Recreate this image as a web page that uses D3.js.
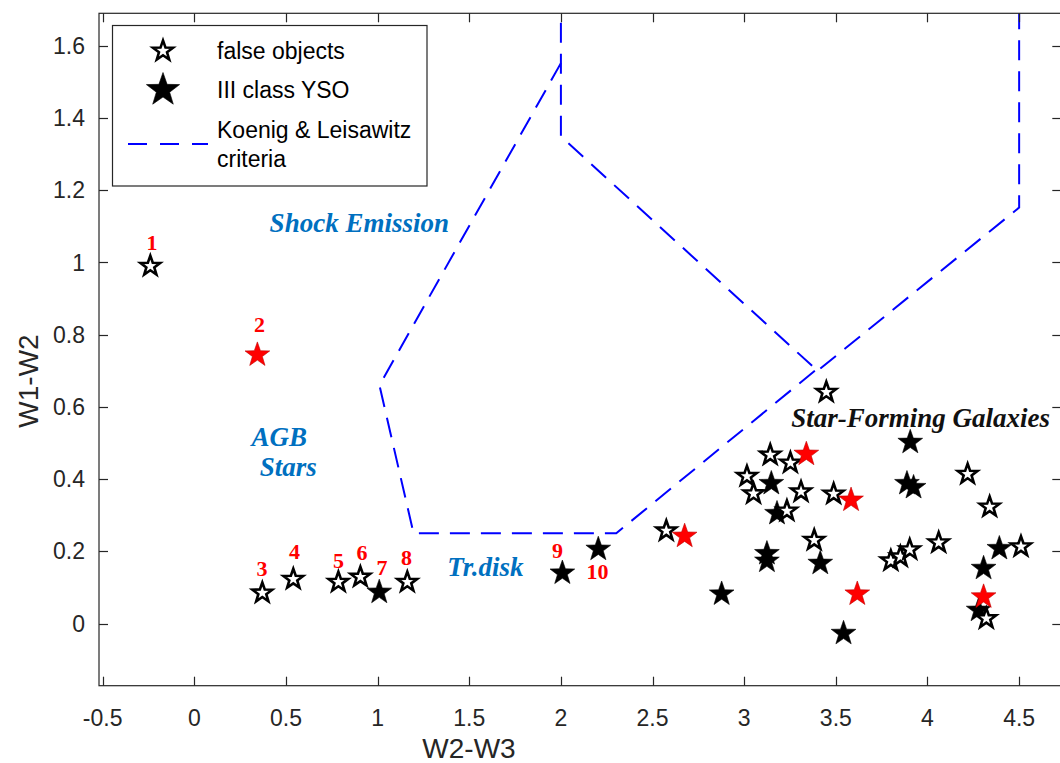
<!DOCTYPE html>
<html>
<head>
<meta charset="utf-8">
<script src="https://cdn.jsdelivr.net/npm/d3@7"></script>
<style>
html,body{margin:0;padding:0;background:#fff;}
svg{display:block;}
</style>
</head>
<body>
<div id="chart"></div>
<script>
// ---------------- data ----------------
// false objects (open stars)
const falseX = [-0.24, 0.371, 0.54, 0.786, 0.906, 1.162,
  3.448, 3.142, 3.252, 3.015, 3.051, 3.31, 3.488, 3.233, 2.575, 3.382,
  4.219, 4.339, 3.80, 3.852, 3.903, 4.061, 4.51, 4.321];
const falseY = [0.99, 0.085, 0.123, 0.115, 0.129, 0.115,
  0.641, 0.467, 0.445, 0.408, 0.36, 0.365, 0.359, 0.312, 0.257, 0.231,
  0.414, 0.323, 0.174, 0.185, 0.205, 0.224, 0.213, 0.014];
// III class YSO (filled black stars)
const ysoX = [1.009, 2.008, 2.204, 3.148, 3.179, 3.124, 3.124, 3.415, 2.877,
  3.542, 3.906, 3.888, 3.924, 4.392, 4.306, 4.279];
const ysoY = [0.087, 0.14, 0.206, 0.388, 0.305, 0.194, 0.173, 0.167, 0.082,
  -0.027, 0.502, 0.388, 0.377, 0.208, 0.153, 0.037];
// highlighted objects (red filled stars)
const redX = [0.344, 3.339, 3.583, 2.675, 3.617, 4.306];
const redY = [0.744, 0.469, 0.342, 0.242, 0.082, 0.074];

// numbered labels (data coordinates)
const numText = ["1","2","3","4","5","6","7","8","9","10"];
const numX = [-0.231, 0.356, 0.369, 0.546, 0.787, 0.915, 1.024, 1.157, 1.982, 2.20];
const numY = [1.055, 0.827, 0.153, 0.199, 0.176, 0.198, 0.154, 0.183, 0.202, 0.143];

// Koenig & Leisawitz criteria boundaries
const critLineA = [[2.0, 1.552], [1.01, 0.66], [1.196, 0.25], [2.302, 0.25], [3.397, 0.705]];
const critLineB = [[2.0, 1.75], [2.0, 1.349], [3.40, 0.70], [4.5, 1.152], [4.5, 1.75]];

// region annotations
const regionText = ["Shock Emission", "AGB", "Stars", "Tr.disk", "Star-Forming Galaxies"];
const regionX = [0.90, 0.464, 0.513, 1.588, 3.963];
const regionY = [1.11, 0.516, 0.433, 0.156, 0.569];
const regionColor = ["#0070C0", "#0070C0", "#0070C0", "#0070C0", "#111111"];

const xTicks = [-0.5, 0, 0.5, 1, 1.5, 2, 2.5, 3, 3.5, 4, 4.5];
const yTicks = [0, 0.2, 0.4, 0.6, 0.8, 1, 1.2, 1.4, 1.6];

const legendLabels = ["false objects", "III class YSO", "Koenig & Leisawitz", "criteria"];

// ---------------- layout ----------------
const W = 1060, H = 763;
const L = 99, R = 1061.3, T = 13.3, B = 685.7;
const axisColor = "#262626";

const x = d3.scaleLinear().domain([-0.52, 4.73]).range([L, R]);
const y = d3.scaleLinear().domain([-0.172, 1.69]).range([B, T]);

const svg = d3.select("#chart").append("svg")
  .attr("width", W).attr("height", H)
  .attr("viewBox", `0 0 ${W} ${H}`);

svg.append("defs").append("clipPath").attr("id", "plotclip")
  .append("rect").attr("x", L).attr("y", T).attr("width", R - L).attr("height", B - T);

function starPath(r, ratio) {
  const pts = [];
  for (let i = 0; i < 10; i++) {
    const rr = i % 2 === 0 ? r : r * ratio;
    const a = -Math.PI / 2 + i * Math.PI / 5;
    pts.push([rr * Math.cos(a), rr * Math.sin(a)]);
  }
  return "M" + pts.map(p => p[0].toFixed(2) + "," + p[1].toFixed(2)).join("L") + "Z";
}
const openStar = starPath(10.4, 0.40);
const fillStar = starPath(13, 0.40);

// ---------------- criteria lines ----------------
const line = d3.line().x(d => x(d[0])).y(d => y(d[1]));
const gLines = svg.append("g").attr("clip-path", "url(#plotclip)");
[critLineA, critLineB].forEach(pts => {
  gLines.append("path").attr("d", line(pts))
    .attr("fill", "none").attr("stroke", "#0000FF")
    .attr("stroke-width", 2).attr("stroke-dasharray", "20,11");
});

// ---------------- points ----------------
const gPts = svg.append("g");
gPts.selectAll("path.yso").data(ysoX.map((v, i) => [v, ysoY[i]])).enter()
  .append("path").attr("class", "yso").attr("d", fillStar)
  .attr("transform", d => `translate(${x(d[0])},${y(d[1])})`)
  .attr("fill", "#000").attr("stroke", "#000").attr("stroke-width", 0.6);
gPts.selectAll("path.fo").data(falseX.map((v, i) => [v, falseY[i]])).enter()
  .append("path").attr("class", "fo").attr("d", openStar)
  .attr("transform", d => `translate(${x(d[0])},${y(d[1])})`)
  .attr("fill", "#fff").attr("stroke", "#000").attr("stroke-width", 2.6);
gPts.selectAll("path.red").data(redX.map((v, i) => [v, redY[i]])).enter()
  .append("path").attr("class", "red").attr("d", fillStar)
  .attr("transform", d => `translate(${x(d[0])},${y(d[1])})`)
  .attr("fill", "#FF0000").attr("stroke", "#C00000").attr("stroke-width", 0.6);

// ---------------- number labels ----------------
svg.append("g").selectAll("text").data(numText).enter().append("text")
  .attr("x", (d, i) => x(numX[i])).attr("y", (d, i) => y(numY[i]))
  .attr("text-anchor", "middle").attr("dominant-baseline", "central")
  .attr("font-family", "'Liberation Serif', 'Times New Roman', serif")
  .attr("font-weight", "bold").attr("font-size", 22).attr("fill", "#FF0000")
  .text(d => d);

// ---------------- region annotations ----------------
svg.append("g").selectAll("text").data(regionText).enter().append("text")
  .attr("x", (d, i) => x(regionX[i])).attr("y", (d, i) => y(regionY[i]))
  .attr("text-anchor", "middle").attr("dominant-baseline", "central")
  .attr("font-family", "'Liberation Serif', 'Times New Roman', serif")
  .attr("font-weight", "bold").attr("font-style", "italic").attr("font-size", 27)
  .attr("fill", (d, i) => regionColor[i])
  .text(d => d);

// ---------------- axes ----------------
const tickLen = 9;
const gAx = svg.append("g");
gAx.append("rect").attr("x", L).attr("y", T).attr("width", R - L).attr("height", B - T)
  .attr("fill", "none").attr("stroke", axisColor).attr("stroke-width", 1.2);
xTicks.forEach(t => {
  const px = Math.round(x(t)) + 0.5;
  gAx.append("line").attr("x1", px).attr("x2", px).attr("y1", B).attr("y2", B - tickLen)
    .attr("stroke", axisColor).attr("stroke-width", 1.2);
  gAx.append("line").attr("x1", px).attr("x2", px).attr("y1", T).attr("y2", T + tickLen)
    .attr("stroke", axisColor).attr("stroke-width", 1.2);
  gAx.append("text").attr("x", x(t)).attr("y", B + 40)
    .attr("text-anchor", "middle")
    .attr("font-family", "'Liberation Sans', Arial, sans-serif").attr("font-size", 23)
    .attr("fill", axisColor).text(String(t));
});
yTicks.forEach(t => {
  const py = Math.round(y(t)) + 0.5;
  gAx.append("line").attr("x1", L).attr("x2", L + tickLen).attr("y1", py).attr("y2", py)
    .attr("stroke", axisColor).attr("stroke-width", 1.2);
  gAx.append("line").attr("x1", R).attr("x2", R - tickLen).attr("y1", py).attr("y2", py)
    .attr("stroke", axisColor).attr("stroke-width", 1.2);
  gAx.append("text").attr("x", L - 14).attr("y", y(t)).attr("dy", "0.35em")
    .attr("text-anchor", "end")
    .attr("font-family", "'Liberation Sans', Arial, sans-serif").attr("font-size", 23)
    .attr("fill", axisColor).text(String(t));
});
gAx.append("text").attr("x", 469).attr("y", 758)
  .attr("text-anchor", "middle")
  .attr("font-family", "'Liberation Sans', Arial, sans-serif").attr("font-size", 28)
  .attr("fill", axisColor).text("W2-W3");
gAx.append("text").attr("transform", `translate(38,381) rotate(-90)`)
  .attr("text-anchor", "middle")
  .attr("font-family", "'Liberation Sans', Arial, sans-serif").attr("font-size", 28)
  .attr("fill", axisColor).text("W1-W2");

// ---------------- legend ----------------
const lg = svg.append("g");
lg.append("rect").attr("x", 112.5).attr("y", 25.5).attr("width", 314.5).attr("height", 160.5)
  .attr("fill", "#fff").attr("stroke", axisColor).attr("stroke-width", 1.2);
lg.append("path").attr("d", starPath(10.6, 0.40)).attr("transform", "translate(163,51)")
  .attr("fill", "#fff").attr("stroke", "#000").attr("stroke-width", 2.6);
lg.append("path").attr("d", starPath(17.5, 0.40)).attr("transform", "translate(163,90)")
  .attr("fill", "#000").attr("stroke", "#000").attr("stroke-width", 0.6);
lg.append("line").attr("x1", 128).attr("x2", 208).attr("y1", 144).attr("y2", 144)
  .attr("stroke", "#0000FF").attr("stroke-width", 2).attr("stroke-dasharray", "19,13");
const legendBase = [59, 97.5, 138, 167];
lg.selectAll("text").data(legendLabels).enter().append("text")
  .attr("x", 217).attr("y", (d, i) => legendBase[i])
  .attr("font-family", "'Liberation Sans', Arial, sans-serif").attr("font-size", 23)
  .attr("fill", "#000").text(d => d);
</script>
</body>
</html>
